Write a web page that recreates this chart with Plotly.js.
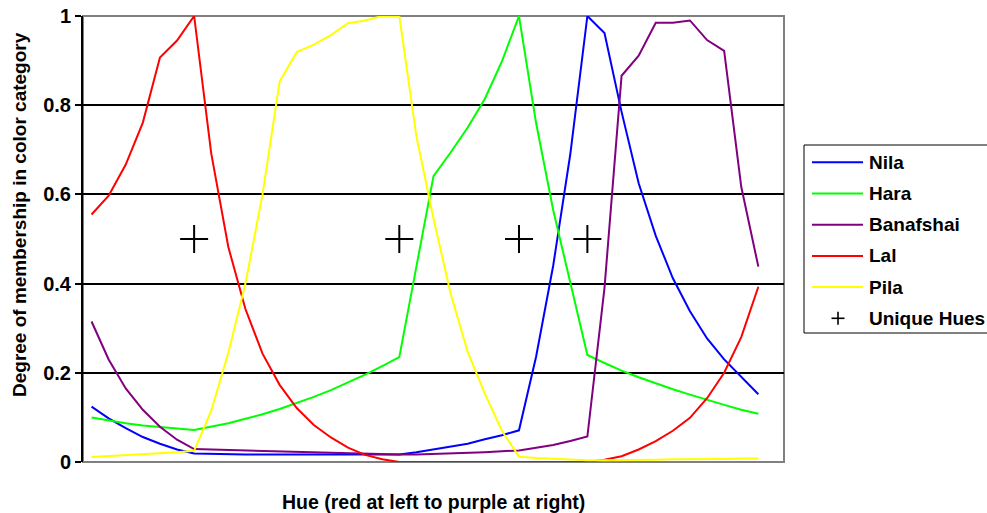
<!DOCTYPE html>
<html>
<head>
<meta charset="utf-8">
<script src="https://cdn.plot.ly/plotly-3.0.1.min.js"></script>
<style>
  html, body { margin: 0; padding: 0; background: #ffffff; }
  #chart { width: 987px; height: 513px; }
</style>
</head>
<body>
<div id="chart"></div>
<script>
// Hue steps, red at the left end to purple at the right end
const hueSteps = [1, 2, 3, 4, 5, 6, 7, 8, 9, 10,
                  11, 12, 13, 14, 15, 16, 17, 18, 19, 20,
                  21, 22, 23, 24, 25, 26, 27, 28, 29, 30,
                  31, 32, 33, 34, 35, 36, 37, 38, 39, 40];

// Degree of membership of each hue step in each colour category
const nila = [0.124, 0.098, 0.076, 0.056, 0.041, 0.028, 0.019, 0.018, 0.018, 0.017,
              0.017, 0.017, 0.017, 0.017, 0.017, 0.017, 0.017, 0.017, 0.017, 0.022,
              0.028, 0.034, 0.041, 0.051, 0.060, 0.071, 0.236, 0.440, 0.690, 1.000,
              0.962, 0.785, 0.625, 0.507, 0.412, 0.338, 0.277, 0.230, 0.190, 0.152];

const hara = [0.100, 0.093, 0.087, 0.082, 0.078, 0.075, 0.072, 0.079, 0.087, 0.097,
              0.107, 0.119, 0.132, 0.146, 0.161, 0.178, 0.196, 0.215, 0.235, 0.438,
              0.641, 0.694, 0.750, 0.814, 0.898, 1.000, 0.760, 0.565, 0.400, 0.240,
              0.222, 0.205, 0.190, 0.176, 0.163, 0.151, 0.139, 0.128, 0.117, 0.108];

const banafshai = [0.315, 0.230, 0.165, 0.117, 0.079, 0.050, 0.029, 0.028, 0.027, 0.025,
                   0.024, 0.023, 0.022, 0.021, 0.020, 0.019, 0.018, 0.018, 0.017, 0.017,
                   0.018, 0.019, 0.020, 0.022, 0.024, 0.026, 0.032, 0.038, 0.047, 0.057,
                   0.390, 0.866, 0.911, 0.985, 0.985, 0.990, 0.946, 0.922, 0.617, 0.438];

const lal = [0.555, 0.597, 0.667, 0.761, 0.907, 0.945, 1.000, 0.692, 0.482, 0.343,
             0.243, 0.173, 0.121, 0.083, 0.055, 0.032, 0.016, 0.006, 0.000, 0.000,
             0.000, 0.000, 0.000, 0.000, 0.000, 0.000, 0.000, 0.000, 0.000, 0.000,
             0.005, 0.013, 0.028, 0.047, 0.070, 0.099, 0.143, 0.200, 0.280, 0.393];

const pila = [0.011, 0.013, 0.015, 0.017, 0.019, 0.022, 0.025, 0.115, 0.245, 0.400,
              0.600, 0.853, 0.919, 0.936, 0.957, 0.984, 0.990, 1.000, 1.000, 0.730,
              0.546, 0.378, 0.247, 0.154, 0.070, 0.012, 0.009, 0.007, 0.005, 0.004,
              0.004, 0.004, 0.005, 0.005, 0.006, 0.006, 0.007, 0.007, 0.008, 0.008];

// Unique hues, marked at membership 0.5
const uniqueHueSteps = [7, 19, 26, 30];
const uniqueHueLevel = [0.5, 0.5, 0.5, 0.5];

const seriesNames  = ['Nila', 'Hara', 'Banafshai', 'Lal', 'Pila'];
const seriesValues = [nila, hara, banafshai, lal, pila];
const seriesColors = ['#0000FF', '#00FF00', '#800080', '#FF0000', '#FFFF00'];
const markerName   = 'Unique Hues';

const FONT = 'Liberation Sans, Arial, Helvetica, sans-serif';

const traces = seriesNames.map((name, i) => ({
  type: 'scatter',
  mode: 'lines',
  name: name,
  x: hueSteps,
  y: seriesValues[i],
  line: { color: seriesColors[i], width: 2 },
  cliponaxis: false,
  showlegend: false,
  hoverinfo: 'skip'
}));

traces.push({
  type: 'scatter',
  mode: 'markers',
  name: markerName,
  x: uniqueHueSteps,
  y: uniqueHueLevel,
  marker: { symbol: 'cross-thin', size: 20, line: { color: '#000000', width: 2 } },
  cliponaxis: false,
  showlegend: false,
  hoverinfo: 'skip'
});

// Plot area geometry in pixels, used to place the legend box
const M = { l: 83, r: 203, t: 16, b: 51 };
const W = 987 - M.l - M.r;
const H = 513 - M.t - M.b;
const px = (x) => (x - M.l) / W;
const py = (y) => (513 - M.b - y) / H;

const shapes = [
  // grey frame around the plotting area
  { type: 'rect', xref: 'paper', yref: 'paper', x0: 0, x1: 1, y0: 0, y1: 1,
    line: { color: '#808080', width: 2 }, layer: 'between' },
  // legend box
  { type: 'rect', xref: 'paper', yref: 'paper',
    x0: px(804), x1: px(1000), y0: py(333), y1: py(145),
    line: { color: '#000000', width: 1 }, fillcolor: '#ffffff' }
];

const annotations = [
  { xref: 'paper', yref: 'paper', x: px(19.5), y: py(214.5), textangle: -90,
    xanchor: 'center', yanchor: 'middle', showarrow: false,
    text: 'Degree of membership in color category',
    font: { family: FONT, size: 19, color: '#000000', weight: 'bold' } },
  { xref: 'paper', yref: 'paper', x: 0.5, y: py(501.5),
    xanchor: 'center', yanchor: 'middle', showarrow: false,
    text: 'Hue (red at left to purple at right)',
    font: { family: FONT, size: 19.5, color: '#000000', weight: 'bold' } }
];

const legendRow = (k) => 162.3 + 31.2 * k;
seriesNames.forEach((name, k) => {
  const yy = legendRow(k);
  shapes.push({ type: 'line', xref: 'paper', yref: 'paper',
    x0: px(812), x1: px(863), y0: py(yy), y1: py(yy),
    line: { color: seriesColors[k], width: 2 } });
  annotations.push({ xref: 'paper', yref: 'paper', x: px(867), y: py(yy),
    xanchor: 'left', yanchor: 'middle', showarrow: false, text: name,
    font: { family: FONT, size: 19, color: '#000000', weight: 'bold' } });
});
{
  const yy = legendRow(seriesNames.length);
  shapes.push({ type: 'line', xref: 'paper', yref: 'paper',
    x0: px(831.5), x1: px(844.5), y0: py(yy), y1: py(yy),
    line: { color: '#000000', width: 1.6 } });
  shapes.push({ type: 'line', xref: 'paper', yref: 'paper',
    x0: px(838), x1: px(838), y0: py(yy - 6.5), y1: py(yy + 6.5),
    line: { color: '#000000', width: 1.6 } });
  annotations.push({ xref: 'paper', yref: 'paper', x: px(867), y: py(yy),
    xanchor: 'left', yanchor: 'middle', showarrow: false, text: markerName,
    font: { family: FONT, size: 19, color: '#000000', weight: 'bold' } });
}

const layout = {
  width: 987,
  height: 513,
  margin: M,
  paper_bgcolor: '#ffffff',
  plot_bgcolor: '#ffffff',
  showlegend: false,
  font: { family: FONT, color: '#000000' },
  xaxis: {
    range: [0.5, 41.5],
    showgrid: false, zeroline: false, showline: false,
    showticklabels: false, ticks: '', fixedrange: true
  },
  yaxis: {
    range: [0, 1],
    tickvals: [0, 0.2, 0.4, 0.6, 0.8, 1],
    ticktext: ['0', '0.2', '0.4', '0.6', '0.8', '1'],
    showgrid: true, gridcolor: '#000000', gridwidth: 2,
    zeroline: false,
    showline: true, linecolor: '#000000', linewidth: 2,
    ticks: 'outside', ticklen: 6, tickwidth: 2, tickcolor: '#000000',
    tickfont: { family: FONT, size: 20, color: '#000000', weight: 'bold' },
    fixedrange: true
  },
  shapes: shapes,
  annotations: annotations
};

Plotly.newPlot('chart', traces, layout, { staticPlot: true, displayModeBar: false });
</script>
</body>
</html>
